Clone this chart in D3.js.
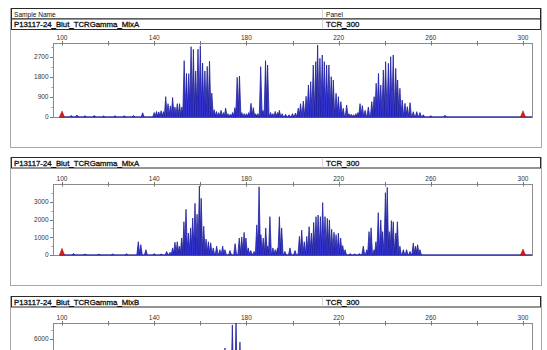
<!DOCTYPE html>
<html>
<head>
<meta charset="utf-8">
<script src="https://cdn.jsdelivr.net/npm/d3@7"></script>
<style>
  html, body { margin: 0; padding: 0; background: #fff; }
  svg { display: block; }
</style>
</head>
<body>
<script>
// ---- Data -------------------------------------------------------------
const headerLabels = ["Sample Name", "Panel"];
const sampleNames = [
  "P13117-24_Blut_TCRGamma_MixA",
  "P13117-24_Blut_TCRGamma_MixA",
  "P13117-24_Blut_TCRGamma_MixB"
];
const panelNames = ["TCR_300", "TCR_300", "TCR_300"];

// size axis (bp)
const bpTicks = [100, 120, 140, 160, 180, 200, 220, 240, 260, 280, 300];
const bpLabels = [100, 140, 180, 220, 260, 300];

// RFU axes for each trace
const rfuTicksA1 = [0, 900, 1800, 2700];
const rfuMinorA1 = [450, 1350, 2250, 3150];
const rfuTicksA2 = [0, 1000, 2000, 3000];
const rfuMinorA2 = [500, 1500, 2500, 3500];
const rfuTicksB = [0, 2000, 4000, 6000];
const rfuMinorB = [1000, 3000, 5000, 7000];
const rfuMax = [3330, 4010, 7745];

// internal size standard (red)
const sizeStdBp = [100, 300];
const sizeStdA1 = [270, 285];
const sizeStdA2 = [380, 340];

// blue dye peaks, trace 1 (MixA)
const peakBpA1 = [
  104, 106.5, 110, 114, 118, 123, 127, 131, 135,
  140, 141, 142, 143, 144, 145, 146, 147, 148, 149, 150, 151, 152,
  153, 154, 155, 156, 157, 158, 159, 160, 161, 162, 163, 164, 165,
  166, 167, 168, 169, 170, 171, 172, 173, 174, 175, 176, 177, 178, 179, 180,
  181, 182, 183, 184, 185, 186.2, 187.2, 188.3, 189.2,
  190.5, 191.5, 192.5, 193.5, 194.3, 195.5, 197, 198.5, 200, 201.3,
  202.5, 203.5, 204.7, 205.9, 206.9, 207.9, 209, 210.1, 210.9, 211.9, 212.9,
  213.8, 214.8, 215.8, 216.8, 217.7, 218.9, 219.9, 221, 222, 223.5,
  224.5, 225.5, 226.5, 227.5, 228.4,
  229.3, 230.3, 231.5, 232.9, 234.4, 235.4, 236.3, 237.3, 238.3, 239.4, 240.4,
  241.6, 242.6, 243.7, 244.8, 245.6, 246.6, 247.6, 248.8, 249.8, 251,
  252.4, 253.9, 255.3, 256.7, 260, 266.2
];
const peakRfuA1 = [
  70, 90, 60, 70, 50, 60, 60, 70, 190,
  200, 250, 230, 280, 240, 915, 600, 500, 880, 450, 600, 600, 450,
  2535, 1965, 1950, 3165, 3045, 2070, 3050, 3195, 2430, 2070, 2280, 2520, 1080,
  330, 250, 200, 300, 200, 400, 150, 120, 200, 420, 1785, 1845, 200, 150, 150,
  200, 615, 420, 150, 150, 2265, 300, 2535, 2340,
  200, 150, 250, 200, 300, 150, 120, 100, 150, 180,
  400, 600, 720, 930, 1440, 1590, 2340, 2490, 3240, 2640, 2790,
  2490, 2340, 2340, 1815, 1665, 1065, 915, 690, 390, 540,
  150, 120, 100, 150, 200,
  600, 510, 300, 450, 690, 915, 1515, 1965, 1440, 2115, 2490,
  2415, 2715, 2790, 2190, 1665, 1290, 765, 615, 465, 645,
  240, 240, 200, 100, 60, 80
];

// blue dye peaks, trace 2 (MixA)
const peakBpA2 = [
  105, 110, 116, 122, 128, 133.1, 134.2, 136.4, 140, 143,
  145.4, 146.9, 148, 149, 150, 150.9, 151.9, 152.9, 153.8, 154.8, 155.8,
  156.7, 157.7, 158.6, 159.6, 160.4, 161.5, 162.5, 163.5, 164.5, 165.6,
  167.1, 168.5, 169.7, 170.7, 172.9, 175.1, 176.9, 178, 179, 179.8, 180.8,
  181.9, 183.3, 184.5, 185.5, 186.3, 187.3, 188.4, 189.2, 190.2,
  191.5, 192.5, 193.5, 194.3, 195.3, 196.7, 198.9, 201.1,
  203, 204, 205.1, 206.2, 207.2, 208.2, 209.2, 210.2, 211.1, 212.1, 213.1,
  214.1, 215.1, 216, 217, 218, 218.9, 219.9, 220.9, 221.8, 222.8,
  225, 227, 229, 230.7, 232.2, 233.2, 234.1, 235.4, 236.2, 237.2, 238.3,
  239.1, 240.3, 241.1, 242, 242.9, 243.7, 244.8, 245.5, 246.6, 248.1,
  249.5, 251, 252.4, 253.4, 254.3, 255.3
];
const peakRfuA2 = [
  90, 60, 50, 60, 70, 750, 580, 300, 80, 60,
  200, 150, 400, 720, 750, 500, 960, 1880, 2580, 1240, 1530,
  2090, 2920, 2300, 3900, 3200, 1620, 900, 750, 690, 400,
  500, 300, 500, 300, 250, 640, 960, 1020, 1280, 960, 400,
  250, 200, 1700, 3850, 1150, 960, 1530, 500, 2165,
  400, 300, 400, 2165, 1530, 200, 400, 250,
  1050, 1410, 750, 1050, 1600, 1240, 1840, 2165, 2260, 2165, 2960,
  2165, 2070, 1980, 1450, 1280, 1150, 1240, 960, 530, 300,
  80, 60, 80, 500, 300, 1320, 1530, 300, 750, 2390, 1980,
  1320, 3520, 3820, 1320, 1940, 1880, 1240, 1880, 500, 300,
  300, 200, 680, 500, 580, 300
];

// blue dye peaks, trace 3 (MixB)
const peakBpB = [170.7, 173.9, 175.5, 177.2];
const peakRfuB = [5020, 7530, 7745, 5670];

// ---- Layout -----------------------------------------------------------
const W = 547, H = 350;
const boxLeft = 10.5, boxRight = 541.5;
const rowLeft = 11.5, rowRight = 540.5, colSplit = 322.5;
const plotLeft = 53, plotRight = 532;
const font = "'Liberation Sans', Arial, sans-serif";
const blueFill = "#3636d4", blueLine = "#1a1a9a", red = "#d21c24";

const panels = [
  { top: 8, headerRow: true, plotTop: 43, plotBottom: 117, bottom: 147,
    bp: peakBpA1, rfu: peakRfuA1, ticks: rfuTicksA1, minor: rfuMinorA1, max: rfuMax[0],
    std: sizeStdA1, name: sampleNames[0], panel: panelNames[0] },
  { top: 157, headerRow: false, plotTop: 184, plotBottom: 255, bottom: 285,
    bp: peakBpA2, rfu: peakRfuA2, ticks: rfuTicksA2, minor: rfuMinorA2, max: rfuMax[1],
    std: sizeStdA2, name: sampleNames[1], panel: panelNames[1] },
  { top: 296, headerRow: false, plotTop: 323, plotBottom: 394, bottom: 424,
    bp: peakBpB, rfu: peakRfuB, ticks: rfuTicksB, minor: rfuMinorB, max: rfuMax[2],
    std: [], name: sampleNames[2], panel: panelNames[2] }
];

const svg = d3.select("body").append("svg")
  .attr("width", W).attr("height", H)
  .attr("viewBox", `0 0 ${W} ${H}`);

const x = d3.scaleLinear()
  .domain([100 + (plotLeft - 62) / 2.305, 100 + (plotRight - 62) / 2.305])
  .range([plotLeft, plotRight]);

panels.forEach((p, i) => {
  const g = svg.append("g");
  const y = d3.scaleLinear().domain([0, p.max]).range([p.plotBottom, p.plotTop]);

  // outer frame
  g.append("rect")
    .attr("x", boxLeft).attr("y", p.top + 0.5)
    .attr("width", boxRight - boxLeft).attr("height", p.bottom - p.top)
    .attr("fill", "none").attr("stroke", "#a8a8a8").attr("stroke-width", 1);

  // header rows
  let rowY = p.top + 0.5;
  const rowH = 10.5;
  const rows = [];
  if (p.headerRow) rows.push({ labels: headerLabels, main: false });
  rows.push({ labels: [p.name, p.panel], main: true });
  rows.forEach(r => {
    g.append("rect")
      .attr("x", rowLeft).attr("y", rowY)
      .attr("width", rowRight - rowLeft).attr("height", rowH)
      .attr("fill", "#fff").attr("stroke", "#2a2a2a").attr("stroke-width", 1);
    g.append("line")
      .attr("x1", colSplit).attr("x2", colSplit)
      .attr("y1", rowY).attr("y2", rowY + rowH)
      .attr("stroke", "#bbb").attr("stroke-width", 0.6);
    [14, 326].forEach((tx, k) => {
      g.append("text")
        .attr("x", tx).attr("y", rowY + rowH - 2.2)
        .attr("font-family", font)
        .attr("font-size", r.main ? 7.8 : 6.6)
        .attr("fill", "#111")
        .attr("stroke", r.main ? "#111" : "none")
        .attr("stroke-width", r.main ? 0.3 : 0)
        .text(r.labels[k]);
    });
    rowY += rowH;
  });

  // clip region for the trace
  const clipId = "clip" + i;
  svg.append("clipPath").attr("id", clipId)
    .append("rect")
    .attr("x", plotLeft).attr("y", p.plotTop - 1)
    .attr("width", plotRight - plotLeft).attr("height", p.plotBottom - p.plotTop + 2);

  // plot frame
  g.append("rect")
    .attr("x", plotLeft + 0.5).attr("y", p.plotTop + 0.5)
    .attr("width", plotRight - plotLeft).attr("height", p.plotBottom - p.plotTop)
    .attr("fill", "none").attr("stroke", "#8a8a8a").attr("stroke-width", 1);

  // top size axis
  const xAxis = g.append("g");
  xAxis.selectAll("line").data(bpTicks).join("line")
    .attr("x1", d => Math.round(x(d)) + 0.5).attr("x2", d => Math.round(x(d)) + 0.5)
    .attr("y1", p.plotTop - 2).attr("y2", p.plotTop + 2.5)
    .attr("stroke", "#777").attr("stroke-width", 1);
  xAxis.selectAll("text").data(bpLabels).join("text")
    .attr("x", d => x(d)).attr("y", p.plotTop - 3.5)
    .attr("text-anchor", "middle")
    .attr("font-family", font).attr("font-size", 6.5)
    .attr("fill", "#333")
    .text(d => d);

  // left RFU axis (only the part that falls on the page)
  const onPage = t => t <= p.max && y(t) + 3 < H;
  const yAxis = g.append("g");
  yAxis.selectAll("line.major").data(p.ticks.filter(onPage)).join("line")
    .attr("class", "major")
    .attr("x1", plotLeft - 3).attr("x2", plotLeft)
    .attr("y1", d => Math.round(y(d)) + 0.5).attr("y2", d => Math.round(y(d)) + 0.5)
    .attr("stroke", "#777").attr("stroke-width", 1);
  yAxis.selectAll("line.minor").data(p.minor.filter(onPage)).join("line")
    .attr("class", "minor")
    .attr("x1", plotLeft - 1.5).attr("x2", plotLeft)
    .attr("y1", d => Math.round(y(d)) + 0.5).attr("y2", d => Math.round(y(d)) + 0.5)
    .attr("stroke", "#999").attr("stroke-width", 1);
  yAxis.selectAll("text").data(p.ticks.filter(onPage)).join("text")
    .attr("x", plotLeft - 4.5).attr("y", d => y(d) + 2.3)
    .attr("text-anchor", "end")
    .attr("font-family", font).attr("font-size", 6.5)
    .attr("fill", "#333")
    .text(d => d);

  const trace = g.append("g").attr("clip-path", `url(#${clipId})`);

  // baseline signal
  trace.append("line")
    .attr("x1", x(99)).attr("x2", plotRight)
    .attr("y1", y(0)).attr("y2", y(0))
    .attr("stroke", "#3a3aa8").attr("stroke-width", 1.4);

  // size standard peaks (red)
  const hwRed = 2.6;
  trace.selectAll("path.std").data(p.std.map((v, k) => ({ bp: sizeStdBp[k], v }))).join("path")
    .attr("class", "std")
    .attr("d", d => `M${x(d.bp) - hwRed},${y(0)} L${x(d.bp)},${y(d.v)} L${x(d.bp) + hwRed},${y(0)} Z`)
    .attr("fill", red).attr("stroke", "#b01010").attr("stroke-width", 0.5);

  // sample peaks (blue)
  const hw = 1.45;
  const peaks = p.bp.map((b, k) => ({ bp: b, v: p.rfu[k] }));
  trace.selectAll("path.pk").data(peaks).join("path")
    .attr("class", "pk")
    .attr("d", d => `M${x(d.bp) - hw},${y(0)} L${x(d.bp)},${y(d.v)} L${x(d.bp) + hw},${y(0)}`)
    .attr("fill", blueFill).attr("stroke", blueLine)
    .attr("stroke-width", 0.75).attr("stroke-linejoin", "miter");
});
</script>
</body>
</html>
